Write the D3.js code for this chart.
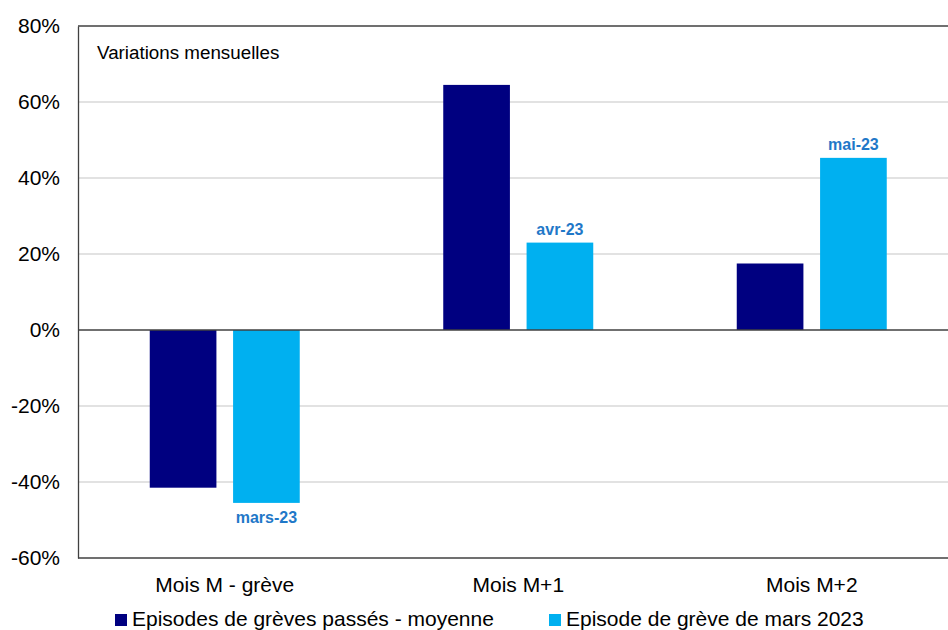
<!DOCTYPE html>
<html><head><meta charset="utf-8">
<script src="https://cdn.jsdelivr.net/npm/d3@7"></script>
<style>body{margin:0;background:#fff}svg{display:block;font-family:"Liberation Sans",Arial,sans-serif}</style>
</head><body>
<svg id="c" width="948" height="630"></svg>
<script>
const categories = ["Mois M - grève", "Mois M+1", "Mois M+2"];
const seriesNames = ["Episodes de grèves passés - moyenne", "Episode de grève de mars 2023"];
const pastAvg = [-41.5, 64.5, 17.5];
const strike2023 = [-45.5, 23.0, 45.3];
const strikeLabels = ["mars-23", "avr-23", "mai-23"];
const yTicks = [-60, -40, -20, 0, 20, 40, 60, 80];
const colors = ["#000080", "#00b0f0"];

const svg = d3.select("#c");
const L = 78, R = 958.5, T = 26, B = 558;
const y = d3.scaleLinear().domain([-60, 80]).range([B, T]);
const x = d3.scaleBand().domain(categories).range([L, R]).paddingInner(0).paddingOuter(0);
const bw = x.bandwidth();
const xs = d3.scaleBand().domain([0, 1]).range([bw / 2 - 75, bw / 2 + 75]).paddingInner(0.2).paddingOuter(0);

// gridlines
svg.append("g").selectAll("line").data(yTicks.filter(t => t !== 0 && t !== -60 && t !== 80)).join("line")
  .attr("x1", L).attr("x2", 948).attr("y1", d => y(d)).attr("y2", d => y(d))
  .attr("stroke", "#d9d9d9").attr("stroke-width", 1.3);

// top border
svg.append("line").attr("x1", L).attr("x2", 948).attr("y1", y(80)).attr("y2", y(80)).attr("stroke", "#404040").attr("stroke-width", 1.3);

// bars
const g = svg.append("g");
categories.forEach((c, i) => {
  [pastAvg[i], strike2023[i]].forEach((v, s) => {
    g.append("rect")
      .attr("x", x(c) + xs(s))
      .attr("width", xs.bandwidth())
      .attr("y", y(Math.max(0, v)))
      .attr("height", Math.abs(y(v) - y(0)))
      .attr("fill", colors[s]);
  });
  const v = strike2023[i];
  g.append("text")
    .attr("x", x(c) + xs(1) + xs.bandwidth() / 2)
    .attr("y", v >= 0 ? y(v) - 8 : y(v) + 20.5)
    .attr("text-anchor", "middle")
    .attr("font-size", 16).attr("font-weight", "bold").attr("fill", "#1f78c8")
    .text(strikeLabels[i]);
});

// zero line
svg.append("line").attr("x1", L).attr("x2", 948).attr("y1", y(0)).attr("y2", y(0)).attr("stroke", "#404040").attr("stroke-width", 1.3);

// y axis
const ya = svg.append("g").attr("transform", `translate(${L},0)`)
  .call(d3.axisLeft(y).tickValues(yTicks).tickFormat(d => d + "%").tickSize(0).tickPadding(18));
ya.select(".domain").attr("stroke", "#404040").attr("stroke-width", 1.3);
ya.selectAll("text").attr("font-size", 21).attr("fill", "#000").attr("font-family", "Liberation Sans, Arial, sans-serif");

// x axis at bottom
const xa = svg.append("g").attr("transform", `translate(0,${B})`)
  .call(d3.axisBottom(x).tickSize(0).tickPadding(19));
xa.select(".domain").remove();
svg.append("line").attr("x1", L).attr("x2", 948).attr("y1", B).attr("y2", B).attr("stroke", "#404040").attr("stroke-width", 1.3);
xa.selectAll("text").attr("font-size", 21).attr("fill", "#000").attr("font-family", "Liberation Sans, Arial, sans-serif");

// annotation
svg.append("text").attr("x", 97).attr("y", 59).attr("font-size", 18.8).attr("fill", "#000").text("Variations mensuelles");

// legend
const legX = [115, 549];
seriesNames.forEach((n, i) => {
  svg.append("rect").attr("x", legX[i]).attr("y", 614).attr("width", 12).attr("height", 12).attr("fill", colors[i]);
  svg.append("text").attr("x", legX[i] + 17).attr("y", 626).attr("font-size", 21).attr("fill", "#000").text(n);
});
</script>
</body></html>
